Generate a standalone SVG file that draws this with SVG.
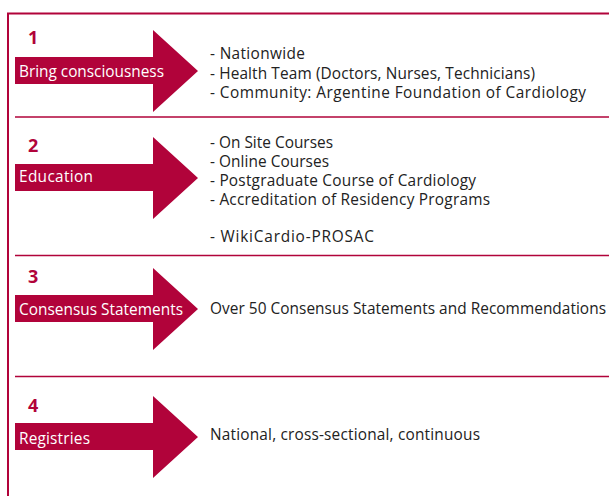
<svg xmlns="http://www.w3.org/2000/svg" width="609" height="496" viewBox="0 0 609 496">
<defs>
<style>
.frame{stroke:#B1033A;stroke-width:2;fill:none}
.sep{stroke:#B1033A;stroke-width:1.4;fill:none}
.arrow{fill:#B1033A}
.num{font-family:"Open Sans","Liberation Sans",sans-serif;font-weight:bold;font-size:18px;fill:#B1033A}
.lbl{font-family:"Open Sans","Liberation Sans",sans-serif;font-size:15.4px;fill:#ffffff}
.txt{font-family:"Open Sans","Liberation Sans",sans-serif;font-size:15.4px;fill:#222222}
</style>
<path id="arw" d="M0,27 H138 V0 L183,41 L138,82 V54 H0 Z"/>
</defs>
<rect width="609" height="496" fill="#ffffff"/>
<g id="frame">
<path class="frame" d="M8,496 V13.5 H609"/>
</g>
<g id="connectors">
<path class="sep" d="M15,117 H609"/>
<path class="sep" d="M15,255.5 H609"/>
<path class="sep" d="M15,376.5 H609"/>
</g>
<g id="step1">
<use href="#arw" class="arrow" x="15" y="30"/>
<text class="num" x="28" y="44">1</text>
<text class="lbl" x="19" y="77" textLength="145">Bring consciousness</text>
<text class="txt" x="210" y="59" textLength="95">- Nationwide</text>
<text class="txt" x="210" y="78.5" textLength="325">- Health Team (Doctors, Nurses, Technicians)</text>
<text class="txt" x="210" y="98" textLength="376">- Community: Argentine Foundation of Cardiology</text>
</g>
<g id="step2">
<use href="#arw" class="arrow" x="15" y="137"/>
<text class="num" x="28" y="152">2</text>
<text class="lbl" x="19" y="182" textLength="74">Education</text>
<text class="txt" x="210" y="147.5" textLength="123">- On Site Courses</text>
<text class="txt" x="210" y="166.5" textLength="119">- Online Courses</text>
<text class="txt" x="210" y="185.5" textLength="266">- Postgraduate Course of Cardiology</text>
<text class="txt" x="210" y="204.5" textLength="280">- Accreditation of Residency Programs</text>
<text class="txt" x="210" y="242" textLength="164">- WikiCardio-PROSAC</text>
</g>
<g id="step3">
<use href="#arw" class="arrow" x="15" y="268"/>
<text class="num" x="28" y="283">3</text>
<text class="lbl" x="19" y="315" textLength="164">Consensus Statements</text>
<text class="txt" x="210" y="314" textLength="396">Over 50 Consensus Statements and Recommendations</text>
</g>
<g id="step4">
<use href="#arw" class="arrow" x="15" y="396"/>
<text class="num" x="28" y="412">4</text>
<text class="lbl" x="19" y="444" textLength="71">Registries</text>
<text class="txt" x="210" y="440" textLength="270">National, cross-sectional, continuous</text>
</g>
</svg>
